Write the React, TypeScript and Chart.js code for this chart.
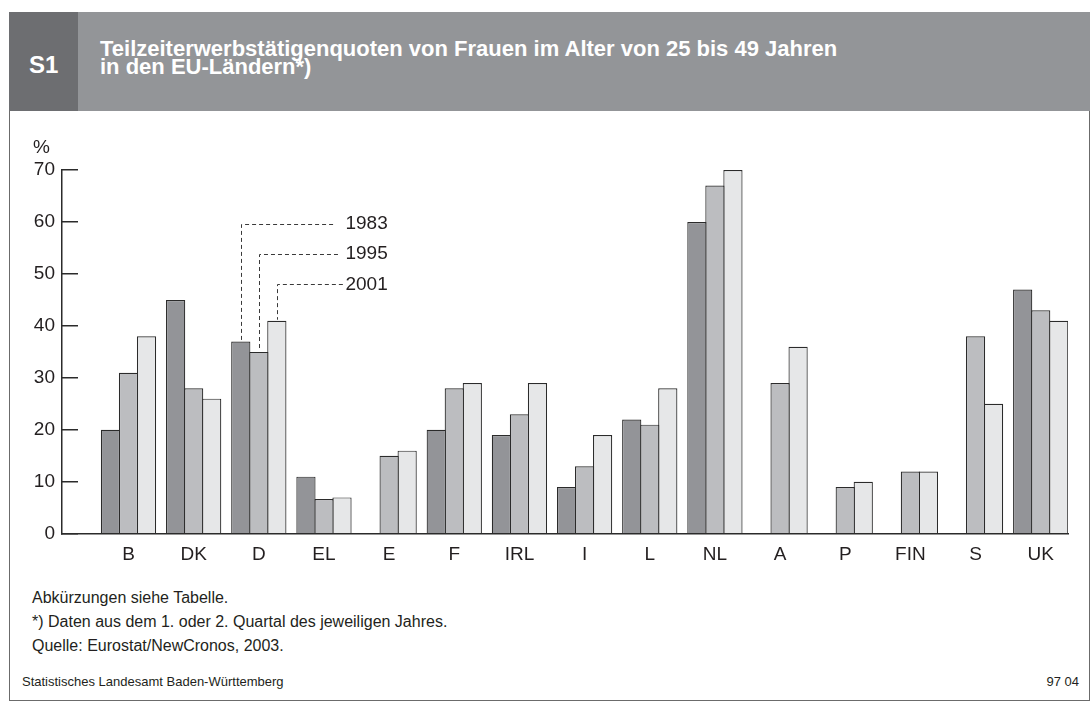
import React, { useEffect, useRef } from 'react';
import { Chart, registerables } from 'chart.js';

Chart.register(...registerables);

// ---------- data ----------
const categories = ['B', 'DK', 'D', 'EL', 'E', 'F', 'IRL', 'I', 'L', 'NL', 'A', 'P', 'FIN', 'S', 'UK'];
const years = ['1983', '1995', '2001'];
const values1983 = [20, 45, 37, 11, null, 20, 19, 9, 22, 60, null, null, null, null, 47];
const values1995 = [31, 28, 35, 6.7, 15, 28, 23, 13, 21, 67, 29, 9, 12, 38, 43];
const values2001 = [38, 26, 41, 7, 16, 29, 29, 19, 28, 70, 36, 10, 12, 25, 41];
const yMin = 0;
const yMax = 70;
const yStep = 10;

// leader lines (legend) attached to the bars of this category
const leaderCategory = 'D';
const leaderLabelLevels = [59.6, 53.8, 48];
const leaderLineEnds = [3.14, 3.215, 3.29];
const leaderTextStart = 3.33;

// ---------- style ----------
const FONT = '"Liberation Sans", Arial, Helvetica, sans-serif';
const TEXT = '#231f20';
const EDGE = '#2b2b2b';
const barColors = ['#939498', '#bcbdc0', '#e6e7e8'];

const leaderPlugin = {
  id: 'leaders',
  afterDatasetsDraw(chart: any) {
    const ctx = chart.ctx;
    const xs = chart.scales.x;
    const ys = chart.scales.y;
    const idx = categories.indexOf(leaderCategory);
    ctx.save();
    ctx.strokeStyle = '#3a3a3a';
    ctx.lineWidth = 1;
    ctx.setLineDash([4, 3]);
    years.forEach((_, i) => {
      const el = chart.getDatasetMeta(i).data[idx];
      if (!el) return;
      const x = Math.round(el.x) + 0.5;
      const yl = Math.round(ys.getPixelForValue(leaderLabelLevels[i])) + 0.5;
      ctx.beginPath();
      ctx.moveTo(xs.getPixelForValue(leaderLineEnds[i]), yl);
      ctx.lineTo(x, yl);
      ctx.lineTo(x, el.y - 1);
      ctx.stroke();
    });
    ctx.setLineDash([]);
    ctx.fillStyle = TEXT;
    ctx.font = `19px ${FONT}`;
    ctx.textBaseline = 'middle';
    ctx.textAlign = 'left';
    years.forEach((yr, i) => {
      ctx.fillText(yr, xs.getPixelForValue(leaderTextStart), ys.getPixelForValue(leaderLabelLevels[i]));
    });
    ctx.fillText('%', chart.chartArea.left - 29, chart.chartArea.top - 22);
    ctx.restore();
  },
};

export default function App() {
  const canvasRef = useRef<HTMLCanvasElement | null>(null);

  useEffect(() => {
    if (!canvasRef.current) return;
    const series = [values1983, values1995, values2001];
    const chart = new Chart(canvasRef.current, {
      type: 'bar',
      data: {
        datasets: series.map((vals, i) => ({
          label: years[i],
          data: vals.map((v, j) => ({ x: j, y: v })),
          backgroundColor: barColors[i],
          borderColor: EDGE,
          borderWidth: 1.2,
          borderSkipped: 'start',
          categoryPercentage: 0.83,
          barPercentage: 1.0666,
        })),
      } as any,
      options: {
        animation: false,
        responsive: false,
        maintainAspectRatio: false,
        layout: { padding: { top: 50, right: 23, bottom: 6.2, left: 0 } },
        plugins: { legend: { display: false }, tooltip: { enabled: false }, title: { display: false } },
        scales: {
          x: {
            type: 'linear',
            offset: false,
            min: -1.0206,
            max: 14.419,
            bounds: 'data',
            afterBuildTicks: (s: any) => {
              s.ticks = categories.map((_, i) => ({ value: i }));
            },
            afterFit: (s: any) => {
              s.height = 40;
            },
            ticks: {
              autoSkip: false,
              maxRotation: 0,
              padding: 10,
              color: TEXT,
              font: { size: 19, family: FONT },
              callback: (v: any) => categories[v] ?? '',
            },
            grid: { display: false, drawTicks: false, offset: false },
            border: { display: true, color: EDGE, width: 1.5 },
          },
          y: {
            min: yMin,
            max: yMax,
            afterFit: (s: any) => {
              s.width = 62;
            },
            ticks: { stepSize: yStep, padding: 23, color: TEXT, font: { size: 19, family: FONT } },
            grid: { drawOnChartArea: false, drawTicks: true, tickLength: -16, color: EDGE, lineWidth: 1.5 },
            border: { display: true, color: EDGE, width: 1.5 },
          },
        },
      } as any,
      plugins: [leaderPlugin],
    });
    return () => chart.destroy();
  }, []);

  const frame = '1.5px solid #6b6b6b';
  const note = { position: 'absolute' as const, left: 32, fontSize: 16, lineHeight: '18px', whiteSpace: 'nowrap' as const };
  return (
    <div style={{ position: 'absolute', left: 0, top: 0, width: 1091, height: 704, background: '#fff', fontFamily: FONT, overflow: 'hidden', color: TEXT }}>
      <div style={{ position: 'absolute', left: 9, top: 12, width: 1081, height: 689, boxSizing: 'border-box', borderLeft: frame, borderRight: frame, borderBottom: frame }} />
      <div style={{ position: 'absolute', left: 9, top: 12, width: 1081, height: 99, background: '#939598' }} />
      <div style={{ position: 'absolute', left: 9, top: 12, width: 69, height: 99, background: '#6d6e71' }} />
      <div style={{ position: 'absolute', left: 29, top: 53, fontSize: 24, lineHeight: '24px', fontWeight: 'bold', color: '#fff' }}>S1</div>
      <div style={{ position: 'absolute', left: 100, top: 40, fontSize: 22, lineHeight: '18px', fontWeight: 'bold', color: '#fff', whiteSpace: 'nowrap' }}>
        Teilzeiterwerbstätigenquoten von Frauen im Alter von 25 bis 49 Jahren
        <br />
        in den EU-Ländern*)
      </div>
      <canvas ref={canvasRef} width={1091} height={460} style={{ position: 'absolute', left: 0, top: 120, width: 1091, height: 460 }} />
      <div style={{ ...note, top: 589 }}>Abkürzungen siehe Tabelle.</div>
      <div style={{ ...note, top: 613 }}>*) Daten aus dem 1. oder 2. Quartal des jeweiligen Jahres.</div>
      <div style={{ ...note, top: 637 }}>Quelle: Eurostat/NewCronos, 2003.</div>
      <div style={{ position: 'absolute', left: 22, top: 674, fontSize: 13, lineHeight: '15px', whiteSpace: 'nowrap' }}>Statistisches Landesamt Baden-Württemberg</div>
      <div style={{ position: 'absolute', right: 12, top: 674, fontSize: 13, lineHeight: '15px', whiteSpace: 'nowrap' }}>97 04</div>
    </div>
  );
}
